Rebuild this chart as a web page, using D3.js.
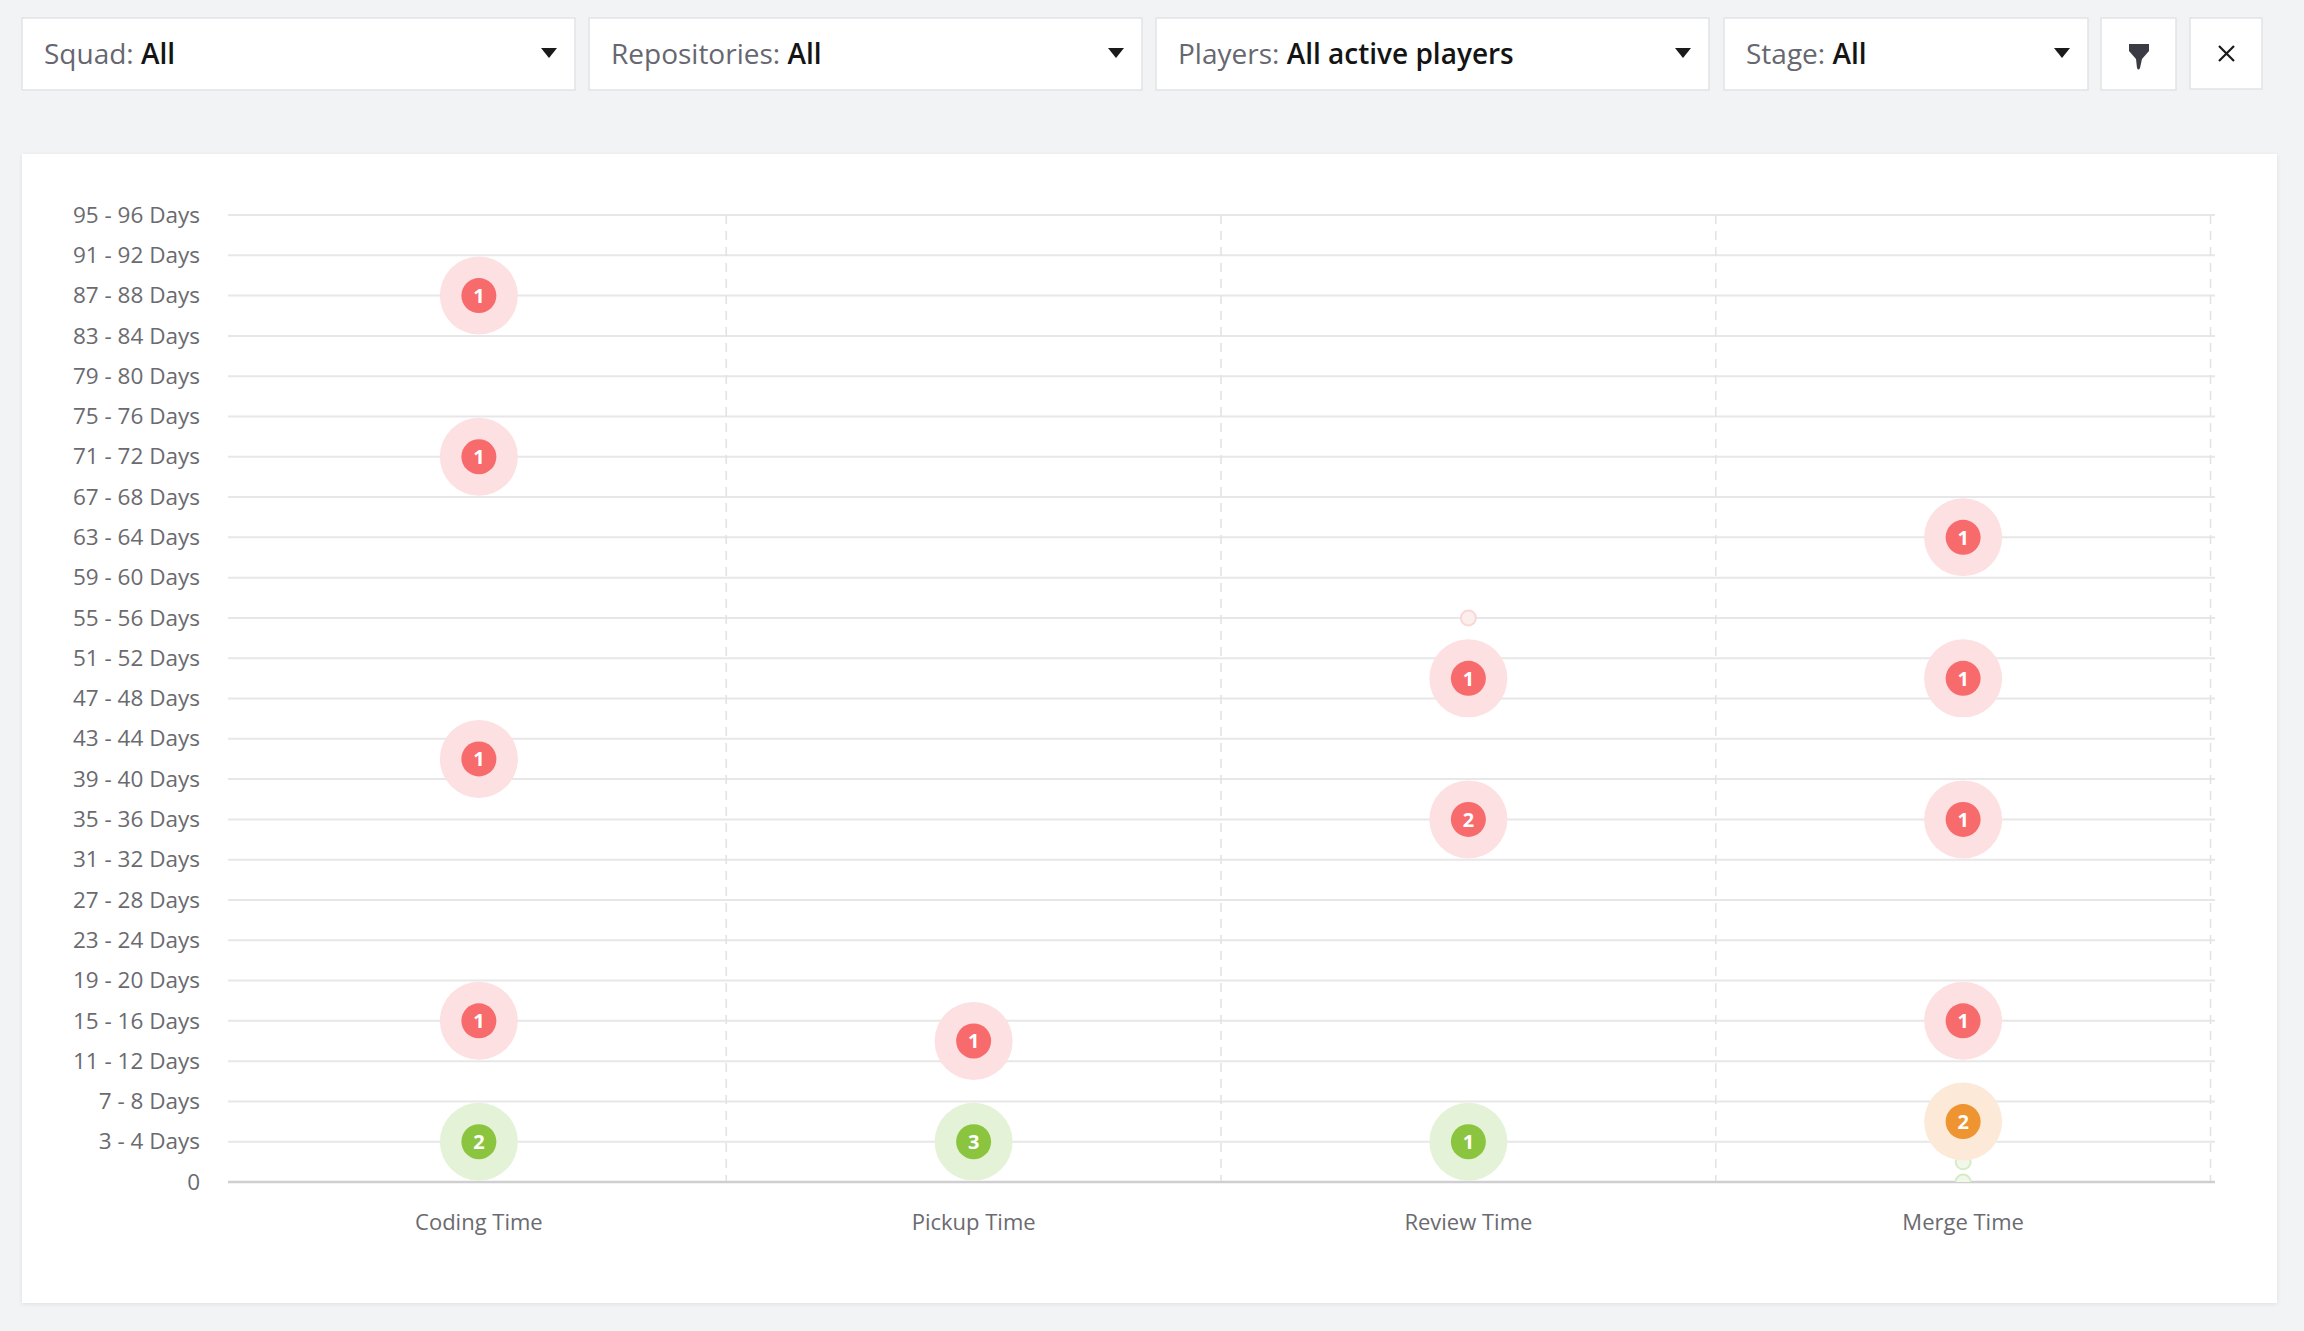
<!DOCTYPE html>
<html>
<head>
<meta charset="utf-8">
<script src="https://cdn.jsdelivr.net/npm/d3@7"></script>
<style>
  html, body { margin: 0; padding: 0; background: #f2f3f5; }
  svg { display: block; font-family: "Open Sans", "Noto Sans", sans-serif; }
</style>
</head>
<body>
<svg id="chart" width="2304" height="1331"></svg>
<script>
// ---------- DATA ----------
const filterLabels = ["Squad:", "Repositories:", "Players:", "Stage:"];
const filterValues = ["All", "All", "All active players", "All"];

const stages = ["Coding Time", "Pickup Time", "Review Time", "Merge Time"];
const yTickValues = d3.range(0, 97, 4);

// one entry per bubble
const pointStage = ["Coding Time","Coding Time","Coding Time","Coding Time","Coding Time",
                    "Pickup Time","Pickup Time",
                    "Review Time","Review Time","Review Time","Review Time",
                    "Merge Time","Merge Time","Merge Time","Merge Time","Merge Time","Merge Time","Merge Time"];
const pointDays   = [88, 72, 42, 16, 4,
                     14, 4,
                     56, 50, 36, 4,
                     64, 50, 36, 16, 6, 2, 0];
const pointCounts = [1, 1, 1, 1, 2,
                     1, 3,
                     0, 1, 2, 1,
                     1, 1, 1, 1, 2, 0, 0];
const pointLevel  = ["slow","slow","slow","slow","fast",
                     "slow","fast",
                     "slow","slow","slow","fast",
                     "slow","slow","slow","slow","medium","fast","fast"];

// ---------- STYLE ----------
const levelInner = { slow: "#f76b6d", medium: "#ee9431", fast: "#8bc53f" };
const levelOuter = { slow: "#fde0e1", medium: "#fde9d8", fast: "#e4f2d8" };
const levelGhostStroke = { slow: "#fbd6d7", medium: "#fbdcc0", fast: "#d7ebc6" };
const levelGhostFill = { slow: "#fdeeee", medium: "#fdf2e8", fast: "#f0f8ea" };

const svg = d3.select("#chart");

// ---------- FILTER BAR ----------
const filterBoxes = [
  { x: 22, w: 553 }, { x: 589, w: 553 }, { x: 1156, w: 553 }, { x: 1724, w: 364 }
];
const fb = svg.append("g").attr("class", "filters");
filterBoxes.forEach((b, i) => {
  const g = fb.append("g").attr("transform", `translate(${b.x},18)`);
  g.append("rect").attr("width", b.w).attr("height", 72)
    .attr("fill", "#fff").attr("stroke", "#e2e3e6").attr("stroke-width", 1.5);
  const t = g.append("text").attr("x", 22).attr("y", 46).attr("font-size", 28);
  t.append("tspan").attr("fill", "#676770").text(filterLabels[i] + " ");
  t.append("tspan").attr("fill", "#141414").attr("font-weight", 600).text(filterValues[i]);
  g.append("path").attr("d", `M${b.w - 34},30 l16,0 l-8,10 z`).attr("fill", "#1a1a1a");
});
// funnel button
const fbtn = fb.append("g").attr("transform", "translate(2101,18)");
fbtn.append("rect").attr("width", 75).attr("height", 72).attr("fill", "#fff")
  .attr("stroke", "#e2e3e6").attr("stroke-width", 1.5);
fbtn.append("path")
  .attr("d", "M28,26 L48,26 L48,33 L41,41 L39,50 Q37.5,53 36,50 L35,41 L28,33 Z")
  .attr("fill", "#3b3b45");
// close button
const xbtn = fb.append("g").attr("transform", "translate(2190,18)");
xbtn.append("rect").attr("width", 72).attr("height", 71).attr("fill", "#fff")
  .attr("stroke", "#e2e3e6").attr("stroke-width", 1.5);
xbtn.append("path").attr("d", "M29,28 L44,43 M44,28 L29,43")
  .attr("stroke", "#1a1a1a").attr("stroke-width", 2.2).attr("fill", "none");

// ---------- CARD ----------
const defs = svg.append("defs");
const sh = defs.append("filter").attr("id", "shadow").attr("x", "-5%").attr("y", "-5%")
  .attr("width", "110%").attr("height", "110%");
sh.append("feDropShadow").attr("dx", 0).attr("dy", 1).attr("stdDeviation", 2)
  .attr("flood-color", "#000").attr("flood-opacity", 0.08);
svg.append("rect").attr("x", 22).attr("y", 154).attr("width", 2255).attr("height", 1149)
  .attr("fill", "#fff").attr("filter", "url(#shadow)");

// ---------- PLOT ----------
const plot = { left: 228, right: 2215, top: 215, bottom: 1182 };
const band = { left: 231.5, right: 2210.5 };

const x = d3.scaleBand().domain(stages).range([band.left, band.right]).padding(0);
const y = d3.scaleLinear().domain([0, 96]).range([plot.bottom, plot.top]);

defs.append("clipPath").attr("id", "plotclip").append("rect")
  .attr("x", plot.left).attr("y", plot.top - 60)
  .attr("width", plot.right - plot.left).attr("height", plot.bottom - plot.top + 60);

// horizontal grid
const grid = svg.append("g").attr("class", "grid");
grid.selectAll("line").data(yTickValues.filter(d => d > 0)).join("line")
  .attr("x1", plot.left).attr("x2", plot.right)
  .attr("y1", d => y(d)).attr("y2", d => y(d))
  .attr("stroke", "#e7e7e9").attr("stroke-width", 2);

// vertical dashed separators
grid.append("g").selectAll("line").data(stages).join("line")
  .attr("x1", d => x(d) + x.bandwidth()).attr("x2", d => x(d) + x.bandwidth())
  .attr("y1", plot.top).attr("y2", plot.bottom)
  .attr("stroke", "#e3e3e6").attr("stroke-width", 1.6).attr("stroke-dasharray", "9,7");

// y axis
const yAxis = d3.axisLeft(y).tickValues(yTickValues)
  .tickFormat(d => d === 0 ? "0" : `${d - 1} - ${d} Days`).tickSize(0).tickPadding(28);
const ya = svg.append("g").attr("transform", `translate(${plot.left},0)`).call(yAxis);
ya.select(".domain").remove();
ya.selectAll("text").attr("font-size", 22.5).attr("fill", "#6a6a70")
  .attr("font-family", "\"Open Sans\", sans-serif");

// x axis
const xAxis = d3.axisBottom(x).tickSize(0).tickPadding(32);
const xa = svg.append("g").attr("transform", `translate(0,${plot.bottom})`).call(xAxis);
xa.select(".domain").attr("stroke", "#cfcfd2").attr("stroke-width", 2.5)
  .attr("d", `M${plot.left},0H${plot.right}`);
xa.selectAll("text").attr("font-size", 22).attr("fill", "#6a6a70")
  .attr("font-family", "\"Open Sans\", sans-serif");

// ---------- BUBBLES ----------
const points = pointDays.map((d, i) => ({
  stage: pointStage[i], days: d, count: pointCounts[i], level: pointLevel[i]
}));
const cx = d => x(d.stage) + x.bandwidth() / 2;

const bub = svg.append("g").attr("clip-path", "url(#plotclip)");
// ghost points (count 0) first
bub.selectAll("circle.ghost").data(points.filter(p => p.count === 0)).join("circle")
  .attr("class", "ghost")
  .attr("cx", cx).attr("cy", d => y(d.days)).attr("r", 7.5)
  .attr("fill", d => levelGhostFill[d.level])
  .attr("stroke", d => levelGhostStroke[d.level]).attr("stroke-width", 2);

const real = bub.selectAll("g.pt").data(points.filter(p => p.count > 0)).join("g")
  .attr("class", "pt")
  .attr("transform", d => `translate(${cx(d)},${y(d.days)})`);
real.append("circle").attr("r", 39).attr("fill", d => levelOuter[d.level]);
real.append("circle").attr("r", 17.5).attr("fill", d => levelInner[d.level]);
real.append("text").attr("text-anchor", "middle").attr("dy", "0.36em")
  .attr("font-size", 20).attr("font-weight", 700).attr("fill", "#fff")
  .text(d => d.count);
</script>
</body>
</html>
